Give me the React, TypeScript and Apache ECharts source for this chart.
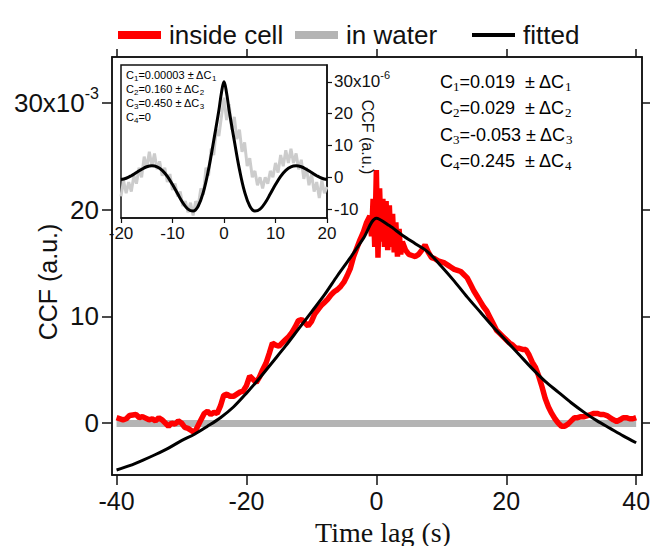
import React, { useEffect, useRef } from "react";
import * as echarts from "echarts";

// ---------- data ----------
const mainXTicks = [-40, -20, 0, 20, 40];
const mainYTicks = [0, 10, 20, 30];
const insetXTicks = [-20, -10, 0, 10, 20];
const insetYTicks = [-10, 0, 10, 20, 30];

const legendNames = ["inside cell", "in water", "fitted"];

// Red: CCF inside cell (x10^-3)
const insideCell: [number, number][] = [
  [-40, 0.5], [-39, 0.3], [-38.5, 0.4], [-38, 0.7], [-37, 0.8], [-36.5, 0.5], [-36, 0.6],
  [-35, 0.3], [-34.5, 0.4], [-34, 0.2], [-33.5, 0.5], [-33, 0.3], [-32, -0.3], [-31.5, 0.0],
  [-31, -0.1], [-30.5, 0.2], [-30, 0.0], [-29.5, -0.4], [-29, -0.5], [-28.5, -0.7], [-28, -0.9],
  [-27.5, -0.3], [-27, 0.3], [-26.5, 0.9], [-26, 1.1], [-25.5, 0.8], [-25, 1.0], [-24.5, 0.9],
  [-24, 1.6], [-23.5, 2.6], [-23, 2.7], [-22.5, 2.5], [-22, 2.5], [-21, 2.9], [-20.5, 3.0],
  [-20, 3.5], [-19.5, 4.4], [-19, 4.1], [-18.5, 3.8], [-18, 4.3], [-17.5, 5.0], [-17, 5.6],
  [-16.5, 6.5], [-16, 7.5], [-15.5, 7.3], [-15, 7.2], [-14.5, 7.5], [-14, 7.8], [-13.5, 8.1],
  [-13, 8.5], [-12.5, 9.0], [-12, 9.6], [-11.5, 9.7], [-11, 9.4], [-10.5, 9.1], [-10, 9.5],
  [-9.5, 10.2], [-9, 10.6], [-8.5, 11.0], [-8, 11.3], [-7.5, 11.6], [-7, 12.0], [-6.5, 12.3],
  [-6, 12.5], [-5.5, 12.8], [-5, 13.2], [-4.5, 13.8], [-4, 14.5], [-3.5, 15.6], [-3, 16.4],
  [-2.5, 17.2], [-2, 17.9], [-1.5, 18.8], [-1, 19.4], [-0.75, 17.5], [-0.5, 21.0], [-0.25, 16.5],
  [0, 23.7], [0.25, 15.5], [0.5, 22.0], [0.75, 17.0], [1, 21.0], [1.25, 16.5], [1.5, 20.8],
  [1.75, 16.2], [2, 20.4], [2.25, 16.5], [2.5, 19.6], [2.75, 16.0], [3, 18.8], [3.25, 15.6],
  [3.5, 18.2], [3.75, 15.8], [4, 17.0], [4.5, 16.2], [5, 15.8], [5.5, 15.7], [6, 15.6],
  [6.5, 15.8], [7, 16.2], [7.5, 16.7], [8, 16.0], [8.5, 15.5], [9, 15.4], [9.5, 15.2],
  [10, 15.1], [10.5, 15.0], [11, 14.8], [11.5, 14.6], [12, 14.4], [12.5, 14.3], [13, 14.2],
  [13.5, 13.9], [14, 13.6], [14.5, 13.0], [15, 12.4], [15.5, 11.9], [16, 11.4], [16.5, 10.9],
  [17, 10.5], [17.5, 9.9], [18, 9.3], [18.5, 8.7], [19, 8.4], [19.5, 8.1], [20, 7.8],
  [20.5, 7.5], [21, 7.3], [21.5, 7.0], [22, 7.0], [22.5, 6.9], [23, 6.9], [23.5, 6.4],
  [24, 5.7], [24.5, 5.2], [25, 4.4], [25.5, 3.4], [26, 2.3], [26.5, 1.5], [27, 0.9],
  [27.5, 0.4], [28, 0.0], [28.5, -0.3], [29, -0.3], [29.5, -0.1], [30, 0.2], [30.5, 0.5],
  [31, 0.5], [31.5, 0.6], [32, 0.6], [32.5, 0.7], [33, 0.8], [33.5, 0.9], [34, 0.9],
  [34.5, 0.8], [35, 0.8], [35.5, 0.7], [36, 0.5], [36.5, 0.3], [37, 0.15], [37.5, 0.3],
  [38, 0.5], [38.5, 0.5], [39, 0.4], [39.5, 0.4], [40, 0.5],
];

// Gray: CCF in water (x10^-3)
const inWater: [number, number][] = [
  [-40, -0.05], [-20, -0.05], [0, -0.05], [20, -0.05], [40, -0.05],
];

// Black: fitted curve (x10^-3)
const fitted: [number, number][] = [
  [-40, -4.4], [-38, -4.0], [-36, -3.5], [-34, -2.95], [-32, -2.35], [-30, -1.65],
  [-28, -1.05], [-26, -0.3], [-24, 0.5], [-22, 1.5], [-20, 2.8], [-18, 4.2], [-16, 5.7],
  [-14, 7.2], [-12, 8.8], [-10, 10.4], [-8, 12.0], [-6, 13.8], [-4, 15.5], [-2, 17.3],
  [0, 19.2], [2, 18.5], [4, 17.6], [6, 16.8], [8, 16.0], [10, 14.7], [12, 13.3], [14, 11.8],
  [16, 10.4], [18, 9.0], [20, 7.7], [22, 6.4], [24, 5.1], [26, 3.9], [28, 2.9], [30, 1.9],
  [32, 1.0], [34, 0.2], [36, -0.5], [38, -1.2], [40, -1.85],
];

// Inset gray data (x10^-6)
const insetData: [number, number][] = [
  [-20, -6], [-19.5, -1], [-19, -5], [-18.5, -1.5], [-18, -4.5], [-17.5, 0.5], [-17, -2],
  [-16.5, 3], [-16, 0], [-15.5, 6.5], [-15, 3], [-14.5, 8], [-14, 3.5], [-13.5, 7.5],
  [-13, 2.5], [-12.5, 5], [-12, 0.5], [-11.5, 3], [-11, -1.5], [-10.5, 1], [-10, -4],
  [-9.5, -2], [-9, -6], [-8.5, -4.5], [-8, -9], [-7.5, -7.5], [-7, -11], [-6.5, -8],
  [-6, -12], [-5.5, -7.5], [-5, -9], [-4.5, -3.5], [-4, -5.5], [-3.5, 3], [-3, 0.5],
  [-2.5, 9], [-2, 7], [-1.5, 15], [-1, 13], [-0.5, 19], [0, 25], [0.5, 18], [1, 23],
  [1.5, 15], [2, 19], [2.5, 12], [3, 15], [3.5, 8], [4, 11], [4.5, 3.5], [5, 6], [5.5, 0],
  [6, 2], [6.5, -2.5], [7, 0], [7.5, -3.5], [8, 0], [8.5, -2], [9, 2], [9.5, 0], [10, 4.5],
  [10.5, 1.5], [11, 7], [11.5, 3.5], [12, 8.5], [12.5, 4.5], [13, 9], [13.5, 4.5], [14, 7.5],
  [14.5, 2.5], [15, 5.5], [15.5, -0.5], [16, 3], [16.5, -2.5], [17, 1], [17.5, -4.5],
  [18, -1.5], [18.5, -6.5], [19, -1], [19.5, -5], [20, -3],
];

// Inset fitted curve (x10^-6)
const insetFit: [number, number][] = [
  [-20, -0.7], [-19, -0.3], [-18, 0.5], [-17, 1.5], [-16, 2.5], [-15, 3.3], [-14, 3.6],
  [-13, 3.3], [-12, 2.2], [-11, 0.3], [-10, -2.3], [-9, -5.2], [-8, -8.0], [-7, -10.0],
  [-6, -10.6], [-5, -9.0], [-4, -4.6], [-3, 2.5], [-2, 11.5], [-1, 21], [-0.5, 26.5],
  [0, 30], [0.5, 26.5], [1, 21], [2, 11.5], [3, 2.5], [4, -4.6], [5, -9.0], [6, -10.6],
  [7, -10.0], [8, -8.0], [9, -5.2], [10, -2.3], [11, 0.3], [12, 2.2], [13, 3.3], [14, 3.6],
  [15, 3.3], [16, 2.5], [17, 1.5], [18, 0.5], [19, -0.3], [20, -0.7],
];

const mainParams = ["0.019  ", "0.029  ", "-0.053 ", "0.245  "];
const insetParams = ["0.00003", "0.160", "0.450", "0"];

// ---------- chart ----------
const SANS = "Liberation Sans, Arial, sans-serif";
const SERIF = "Liberation Serif, Times New Roman, serif";

function buildOption() {
  const mainRich = {
    n: { fontSize: 18, fontFamily: SANS, color: "#222" },
    s: { fontSize: 13, fontFamily: SERIF, color: "#222", padding: [9, 0, 0, 0] },
  };
  const insetRich = {
    n: { fontSize: 11, fontFamily: SANS, color: "#333" },
    s: { fontSize: 8, fontFamily: SANS, color: "#333", padding: [6, 0, 0, 0] },
  };

  const graphics: any[] = [];
  mainParams.forEach((p, i) => {
    graphics.push({
      type: "text",
      x: 440,
      y: 82 + i * 26.3,
      style: {
        text: `{n|C}{s|${i + 1}}{n|=${p}± ΔC}{s|${i + 1}}`,
        rich: mainRich,
        verticalAlign: "middle",
        align: "left",
      },
    });
  });
  insetParams.forEach((p, i) => {
    const tail = i < 3 ? `{n| ± ΔC}{s|${i + 1}}` : "";
    graphics.push({
      type: "text",
      x: 126,
      y: 75 + i * 14,
      z: 100,
      style: {
        text: `{n|C}{s|${i + 1}}{n|=${p}}${tail}`,
        rich: insetRich,
        verticalAlign: "middle",
        align: "left",
      },
    });
  });
  graphics.push({
    type: "text",
    x: 48,
    y: 282,
    rotation: Math.PI / 2,
    style: {
      text: "CCF (a.u.)",
      fontSize: 25,
      fontFamily: SANS,
      fill: "#111",
      align: "center",
      verticalAlign: "middle",
    },
  });
  graphics.push({
    type: "text",
    x: 367,
    y: 137,
    rotation: -Math.PI / 2,
    z: 100,
    style: {
      text: "CCF (a.u.)",
      fontSize: 16,
      fontFamily: SANS,
      fill: "#111",
      align: "center",
      verticalAlign: "middle",
    },
  });
  graphics.push({
    type: "text",
    x: 383,
    y: 532,
    style: {
      text: "Time lag (s)",
      fontSize: 28,
      fontFamily: SERIF,
      fill: "#111",
      align: "center",
      verticalAlign: "middle",
    },
  });

  const legendBase = {
    orient: "horizontal",
    top: 22,
    padding: 0,
    itemWidth: 43,
    icon: "rect",
    textStyle: { fontSize: 26, fontFamily: SANS, color: "#111", padding: [0, 0, 0, 3] },
  };

  const mainTickVals = mainXTicks;
  return {
    animation: false,
    backgroundColor: "#fff",
    legend: [
      { ...legendBase, data: [legendNames[0]], left: 118, itemHeight: 8 },
      { ...legendBase, data: [legendNames[1]], left: 295, itemHeight: 8 },
      { ...legendBase, data: [legendNames[2]], left: 472, itemHeight: 4 },
    ],
    grid: [
      {
        left: 112, top: 57, right: 12, bottom: 71,
        show: true, borderColor: "#111", borderWidth: 1.5, backgroundColor: "transparent",
      },
      {
        left: 121, top: 65, width: 206, height: 153,
        show: true, borderColor: "#111", borderWidth: 1.5, backgroundColor: "#fff", z: 10,
      },
    ],
    xAxis: [
      {
        type: "value", gridIndex: 0, position: "bottom", min: -40.7, max: 40.9,
        axisLine: { show: true, onZero: false, lineStyle: { color: "#111", width: 1.5 } },
        axisTick: { show: true, inside: false, length: 10, customValues: mainTickVals, lineStyle: { color: "#111", width: 1.5 } },
        axisLabel: { show: true, customValues: mainTickVals, fontSize: 25, fontFamily: SANS, color: "#111", margin: 13 },
        splitLine: { show: false },
      },
      {
        type: "value", gridIndex: 0, position: "top", min: -40.7, max: 40.9,
        axisLine: { show: true, onZero: false, lineStyle: { color: "#111", width: 1.5 } },
        axisTick: { show: true, inside: false, length: 8, customValues: mainTickVals, lineStyle: { color: "#111", width: 1.5 } },
        axisLabel: { show: false },
        splitLine: { show: false },
      },
      {
        type: "value", gridIndex: 1, position: "bottom", min: -20, max: 20, interval: 10, z: 11,
        axisLine: { show: true, onZero: false, lineStyle: { color: "#111", width: 1.5 } },
        axisTick: { show: true, inside: false, length: 5, customValues: insetXTicks, lineStyle: { color: "#111", width: 1.2 } },
        axisLabel: { show: true, customValues: insetXTicks, fontSize: 17, fontFamily: SANS, color: "#111", margin: 7 },
        splitLine: { show: false },
      },
    ],
    yAxis: [
      {
        type: "value", gridIndex: 0, position: "left", min: -4.87, max: 34.3,
        axisLine: { show: true, onZero: false, lineStyle: { color: "#111", width: 1.5 } },
        axisTick: { show: true, inside: false, length: 10, customValues: mainYTicks, lineStyle: { color: "#111", width: 1.5 } },
        axisLabel: {
          show: true, customValues: mainYTicks, margin: 13,
          formatter: (v: number) => (v === 30 ? "{n|30x10}{sup|-3}" : `{n|${v}}`),
          rich: {
            n: { fontSize: 26, fontFamily: SANS, color: "#111" },
            sup: { fontSize: 16, fontFamily: SANS, color: "#111", padding: [0, 0, 18, 0] },
          },
        },
        splitLine: { show: false },
      },
      {
        type: "value", gridIndex: 0, position: "right", min: -4.87, max: 34.3,
        axisLine: { show: true, onZero: false, lineStyle: { color: "#111", width: 1.5 } },
        axisTick: { show: true, inside: false, length: 8, customValues: mainYTicks, lineStyle: { color: "#111", width: 1.5 } },
        axisLabel: { show: false },
        splitLine: { show: false },
      },
      {
        type: "value", gridIndex: 1, position: "right", min: -12.8, max: 35.3, z: 11,
        axisLine: { show: true, onZero: false, lineStyle: { color: "#111", width: 1.5 } },
        axisTick: { show: true, inside: false, length: 5, customValues: insetYTicks, lineStyle: { color: "#111", width: 1.2 } },
        axisLabel: {
          show: true, customValues: insetYTicks, margin: 7,
          formatter: (v: number) => (v === 30 ? "{n|30x10}{sup|-6}" : `{n|${v}}`),
          rich: {
            n: { fontSize: 17, fontFamily: SANS, color: "#111" },
            sup: { fontSize: 11, fontFamily: SANS, color: "#111", padding: [0, 0, 13, 0] },
          },
        },
        splitLine: { show: false },
      },
    ],
    series: [
      {
        name: "in water", type: "line", xAxisIndex: 0, yAxisIndex: 0, data: inWater,
        symbol: "none", lineStyle: { color: "#b4b4b4", width: 7 }, itemStyle: { color: "#b4b4b4" }, z: 2,
      },
      {
        name: "inside cell", type: "line", xAxisIndex: 0, yAxisIndex: 0, data: insideCell,
        symbol: "none", lineStyle: { color: "#ff0000", width: 5.5 }, itemStyle: { color: "#ff0000" }, z: 3,
      },
      {
        name: "fitted", type: "line", xAxisIndex: 0, yAxisIndex: 0, data: fitted,
        symbol: "none", smooth: 0.3, lineStyle: { color: "#000", width: 3 }, itemStyle: { color: "#000" }, z: 4,
      },
      {
        name: "inset data", type: "line", xAxisIndex: 2, yAxisIndex: 2, data: insetData,
        symbol: "none", lineStyle: { color: "#cccccc", width: 3 }, itemStyle: { color: "#cccccc" }, z: 12,
        markLine: {
          silent: true, symbol: "none", label: { show: false },
          lineStyle: { color: "#d4d4d4", width: 1.5, type: "solid" },
          data: [{ xAxis: 0 }],
        },
      },
      {
        name: "inset fit", type: "line", xAxisIndex: 2, yAxisIndex: 2, data: insetFit,
        symbol: "none", smooth: 0.4, lineStyle: { color: "#000", width: 3 }, itemStyle: { color: "#000" }, z: 13,
      },
    ],
    graphic: graphics,
  };
}

export default function App() {
  const ref = useRef<HTMLDivElement>(null);
  useEffect(() => {
    if (!ref.current) return;
    const chart = echarts.init(ref.current, null, { renderer: "svg" });
    chart.setOption(buildOption() as any);
    return () => chart.dispose();
  }, []);
  return (
    <div
      ref={ref}
      style={{ position: "fixed", left: 0, top: 0, width: 654, height: 546, background: "#fff" }}
    />
  );
}
